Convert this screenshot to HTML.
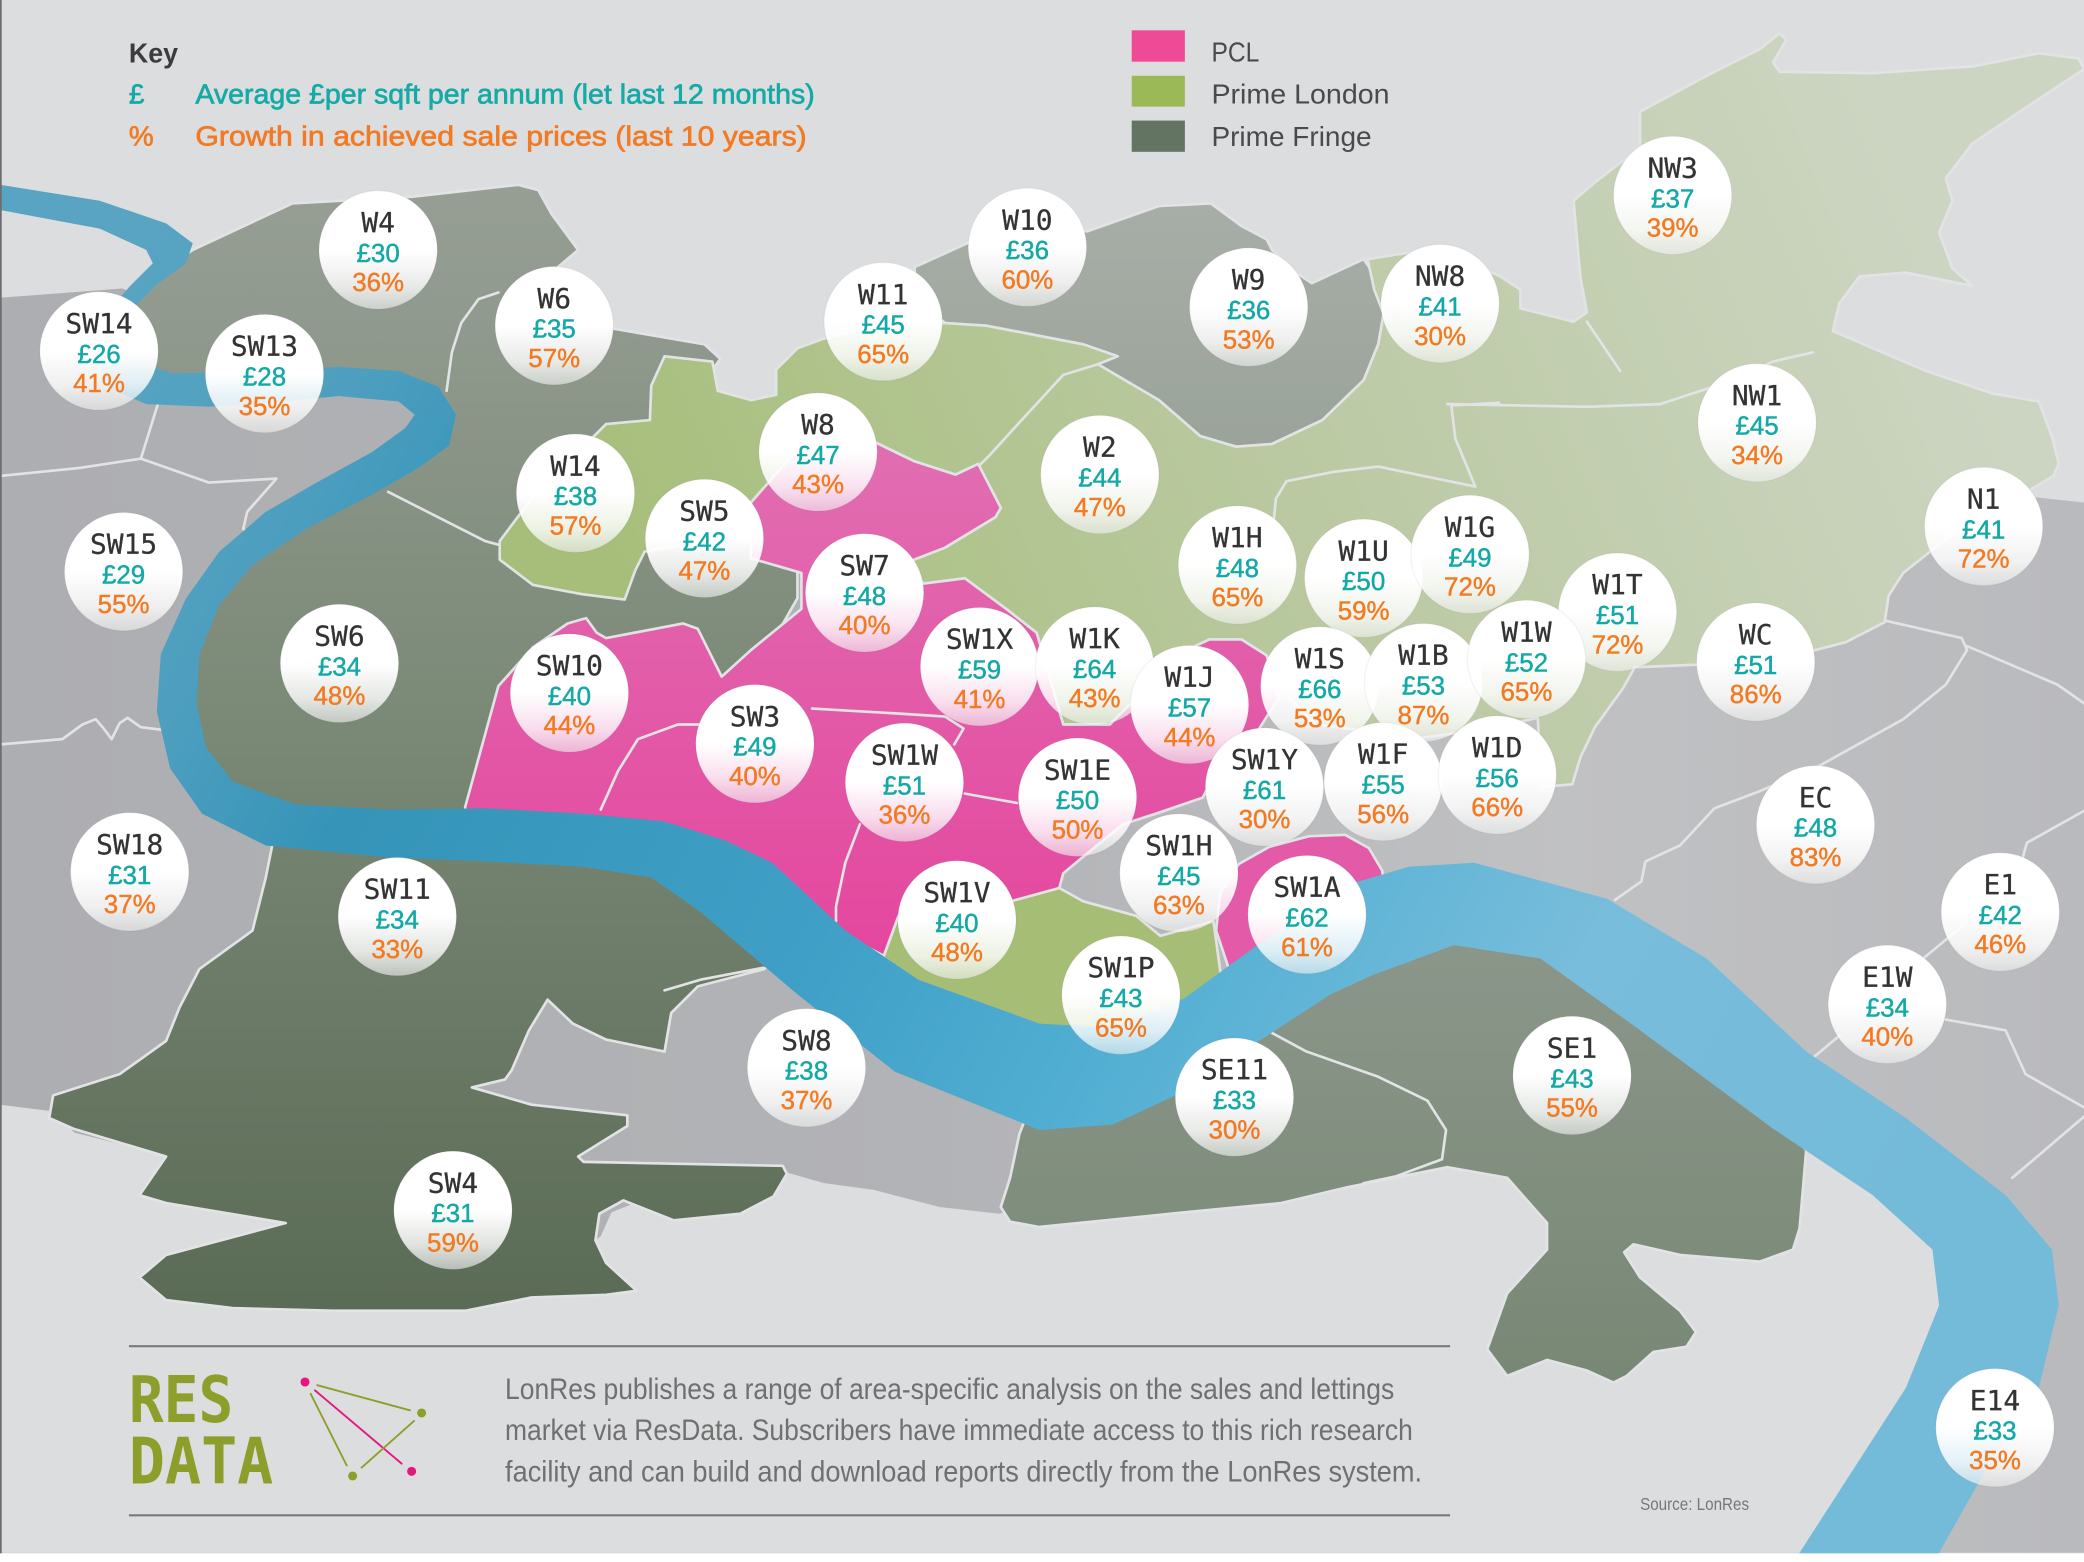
<!DOCTYPE html>
<html><head><meta charset="utf-8">
<style>
html,body{margin:0;padding:0;background:#dcdddf;}
svg{display:block}
.c circle{fill:url(#cg);stroke:rgba(120,120,120,0.08);stroke-width:1}
.p{font-family:"DejaVu Sans Mono","Liberation Mono",monospace;font-size:21px;fill:#333;stroke:#333;stroke-width:0.2;text-anchor:middle}
.v{font-family:"Liberation Sans",sans-serif;font-size:19.5px;fill:#13a9a6;stroke:#13a9a6;stroke-width:0.35;text-anchor:middle}
.g{font-family:"Liberation Sans",sans-serif;font-size:19.5px;fill:#f37a22;stroke:#f37a22;stroke-width:0.35;text-anchor:middle}
.ln{fill:none;stroke:#e2e3e4;stroke-width:2;stroke-linejoin:round;stroke-linecap:round}
.rg{stroke:#e2e3e4;stroke-width:2;stroke-linejoin:round}
.lg{font-family:"Liberation Sans",sans-serif;font-size:21px}
</style></head>
<body>
<svg width="2084" height="1562" viewBox="0 0 1568 1175" preserveAspectRatio="none" xmlns="http://www.w3.org/2000/svg">
<defs>
<linearGradient id="cg" x1="0" y1="0" x2="0" y2="1">
<stop offset="0" stop-color="#fff"/><stop offset="0.5" stop-color="#fff"/><stop offset="0.8" stop-color="#fff" stop-opacity="0.8"/><stop offset="1" stop-color="#f4f4f4" stop-opacity="0.6"/>
</linearGradient>
<linearGradient id="gGrey" gradientUnits="userSpaceOnUse" x1="0" y1="0" x2="1568" y2="0">
<stop offset="0" stop-color="#adaeb1"/><stop offset="0.45" stop-color="#b2b3b6"/><stop offset="0.75" stop-color="#c0c1c3"/><stop offset="1" stop-color="#b9babd"/>
</linearGradient>
<linearGradient id="gFW" gradientUnits="userSpaceOnUse" x1="0" y1="140" x2="0" y2="990">
<stop offset="0" stop-color="#979f95"/><stop offset="0.45" stop-color="#7c8a78"/><stop offset="1" stop-color="#5a6b55"/>
</linearGradient>
<linearGradient id="gFN" gradientUnits="userSpaceOnUse" x1="0" y1="150" x2="0" y2="340">
<stop offset="0" stop-color="#a7aea7"/><stop offset="1" stop-color="#9aa39a"/>
</linearGradient>
<linearGradient id="gFS" gradientUnits="userSpaceOnUse" x1="0" y1="690" x2="0" y2="1040">
<stop offset="0" stop-color="#8c978b"/><stop offset="1" stop-color="#788875"/>
</linearGradient>
<linearGradient id="gGreen" gradientUnits="userSpaceOnUse" x1="1400" y1="60" x2="450" y2="450">
<stop offset="0" stop-color="#ccd5c1"/><stop offset="0.45" stop-color="#bccaa5"/><stop offset="1" stop-color="#a6be79"/>
</linearGradient>
<linearGradient id="gPink" gradientUnits="userSpaceOnUse" x1="0" y1="320" x2="0" y2="720">
<stop offset="0" stop-color="#e16fb2"/><stop offset="1" stop-color="#e4479e"/>
</linearGradient>
<linearGradient id="gRiver" gradientUnits="userSpaceOnUse" x1="100" y1="200" x2="1450" y2="950">
<stop offset="0" stop-color="#58a4c2"/><stop offset="0.12" stop-color="#4e9fbf"/><stop offset="0.22" stop-color="#3594b8"/><stop offset="0.45" stop-color="#3f9fc6"/><stop offset="0.6" stop-color="#52afd3"/><stop offset="0.78" stop-color="#78bddb"/><stop offset="1" stop-color="#74bad9"/>
</linearGradient>
</defs>

<rect width="1568" height="1175" fill="#dcdddf"/>

<path fill="url(#gGrey)" d="M0,224 L92,217 L150,240 L300,270 L450,300 L560,335 L700,380 L900,450 L1100,470 L1300,420 L1450,380 L1510,372 L1530,374 L1568,378 L1568,1168 L0,1168 Z"/>
<path fill="#dcdddf" d="M0,831 L40,836 L56,852 L120,868 L300,960 L430,945 L452,930 L460,912 L475,906 L507,915 L557,910 L580,898 L592,882 L620,890 L657,895 L707,908 L752,913 L775,905 L1000,880 L1150,870 L1300,870 L1359,865 L1385,862 L1440,900 L1470,950 L1472,990 L1460,1040 L1420,1100 L1385,1168 L0,1168 Z"/>

<path class="rg" fill="url(#gFW)" d="M110,212 L145,188 L220,153 L310,148 L390,139 L405,143 L415,161 L435,188 L415,205 L460,247 L530,259 L542,270 L520,300 L560,335 L600,400 L600,450 L560,520 L470,560 L400,600 L370,628 L450,640 L540,660 L600,700 L575,729 L525,742 L505,762 L500,791 L456,782 L431,770 L412,752 L398,775 L385,805 L380,812 L355,818 L400,831 L472,839 L472,847 L435,870 L439,874 L589,877 L592,883 L582,900 L557,913 L507,918 L469,903 L451,913 L448,933 L456,950 L479,971 L456,974 L400,976 L350,986 L250,986 L175,984 L125,978 L105,961 L125,944 L215,920 L125,905 L105,899 L125,870 L55,849 L37,841 L40,824 L90,808 L125,783 L135,758 L150,729 L190,700 L200,660 L205,635 L175,612 L150,590 L140,560 L138,520 L145,480 L165,445 L200,410 L250,380 L300,355 L325,330 L325,308 L300,292 L255,287 L200,292 L130,292 L100,285 L92,255 L95,230 Z"/>
<path class="rg" fill="url(#gFN)" d="M688,201 L730,182 L770,168 L818,174 L872,155 L911,153 L934,170 L953,180 L957,188 L975,205 L987,213 L1026,195 L1033,205 L1041,236 L1037,259 L1026,286 L995,316 L957,334 L930,336 L903,328 L872,301 L826,274 L815,259 L742,245 L711,243 L690,225 Z"/>
<path class="rg" fill="url(#gFS)" d="M767,853 L782,815 L837,812 L891,790 L946,750 L1010,705 L1060,690 L1109,685 L1160,700 L1230,745 L1300,805 L1359,865 L1354,924 L1349,940 L1324,949 L1264,944 L1229,936 L1222,942 L1234,961 L1264,986 L1276,1002 L1269,1013 L1244,1017 L1224,1035 L1214,1040 L1194,1031 L1164,1023 L1134,1035 L1119,1015 L1134,973 L1164,940 L1164,920 L1134,886 L1089,878 L1014,893 L964,905 L891,912 L782,923 L760,919 L753,908 L760,886 Z"/>

<path class="rg" fill="url(#gGreen)" d="M376,407 L400,375 L425,345 L445,330 L456,319 L489,316 L490,290 L500,268 L536,272 L540,294 L565,301 L584,297 L584,278 L600,262 L619,255 L660,245 L711,243 L742,245 L815,259 L841,268 L826,274 L872,301 L903,328 L930,336 L957,334 L995,316 L1026,286 L1037,259 L1041,236 L1034,218 L1029,195 L1060,190 L1100,195 L1129,208 L1144,218 L1144,232 L1184,242 L1194,235 L1189,208 L1184,151 L1199,138 L1234,111 L1234,84 L1284,57 L1324,37 L1339,25 L1344,30 L1334,47 L1339,54 L1409,55 L1484,50 L1534,40 L1564,44 L1568,52 L1524,81 L1484,108 L1464,134 L1469,151 L1459,175 L1469,202 L1484,215 L1434,205 L1399,208 L1384,228 L1379,249 L1449,279 L1499,296 L1534,302 L1544,329 L1549,349 L1545,358 L1525,370 L1500,378 L1461,408 L1432,431 L1421,448 L1418,468 L1389,483 L1366,489 L1276,500 L1230,502 L1221,518 L1200,547 L1189,570 L1183,590 L1160,592 L1157,540 L1120,548 L1070,555 L1030,550 L990,545 L965,520 L953,493 L934,481 L910,481 L880,495 L860,520 L835,545 L800,545 L780,476 L757,458 L726,435 L695,439 L680,424 L711,412 L749,389 L753,382 L736,349 L719,357 L688,347 L657,332 L615,375 L565,378 L540,405 L485,415 L478,429 L470,451 L438,447 L401,440 L376,421 Z"/>
<path class="rg" fill="#a6bd75" d="M665,719 L676,689 L720,690 L764,677 L797,668 L815,678 L855,689 L873,704 L913,693 L917,722 L920,745 L880,770 L837,790 L782,790 L700,760 L640,725 Z"/>

<path class="rg" fill="url(#gPink)" d="M640,320 L657,332 L688,347 L719,357 L736,349 L753,382 L749,389 L711,412 L680,424 L695,439 L726,435 L757,458 L780,476 L800,545 L835,545 L860,520 L880,495 L910,481 L934,481 L953,493 L962,525 L945,552 L915,580 L905,600 L870,612 L845,620 L818,642 L800,657 L797,668 L764,677 L720,690 L676,689 L665,719 L628,700 L600,680 L545,652 L500,636 L438,628 L365,625 L350,618 L350,607 L375,516 L401,487 L427,469 L441,465 L449,476 L456,480 L514,469 L525,473 L543,509 L565,489 L603,458 L603,431 L565,420 L565,378 L600,338 Z"/>
<path class="rg" fill="#e25aa8" d="M915,700 L918,672 L932,650 L955,637 L985,629 L1012,628 L1030,638 L1040,655 L1042,675 L1030,690 L980,720 L930,745 Z"/>

<polyline class="ln" points="0,358 60,352 106,345 120,300"/>
<polyline class="ln" points="106,345 157,363 208,360 186,385 183,398 200,408"/>
<polyline class="ln" points="0,560 47,556 62,545 72,541 78,548 84,556 90,544 96,540 106,547 122,549"/>
<polyline class="ln" points="292,370 365,407 376,410"/>
<polyline class="ln" points="336,294 340,265 347,243 360,225 375,220"/>
<polyline class="ln" points="452,609 465,580 480,556 510,545 526,545"/>
<polyline class="ln" points="611,533 680,537 711,539 725,548 718,560"/>
<polyline class="ln" points="726,597 765,604"/>
<polyline class="ln" points="647,620 636,649 629,682 629,693"/>
<polyline class="ln" points="737,350 745,342 765,320 800,282 826,274"/>
<polyline class="ln" points="1128,303 1092,305 1095,330 1110,366 1037,351 1003,355 968,362 960,375 958,395"/>
<polyline class="ln" points="1089,304 1194,306 1249,304 1304,286 1334,272 1364,265"/>
<polyline class="ln" points="1219,279 1194,242"/>
<polyline class="ln" points="1419,467 1476,480 1480,489 1464,515 1432,541 1369,576 1322,596 1290,608 1264,636 1238,648 1235,663 1215,677"/>
<polyline class="ln" points="1480,486 1548,515 1568,529"/>
<polyline class="ln" points="1568,610 1525,634 1522,645"/>
<polyline class="ln" points="1476,697 1447,721"/>
<polyline class="ln" points="1359,800 1384,779"/>
<polyline class="ln" points="1464,767 1509,775 1524,808 1568,833"/>
<polyline class="ln" points="1568,840 1514,886"/>
<polyline class="ln" points="957,777 983,791 1037,810 1074,828 1088,850 1085,872 1050,885 1026,890"/>
<polyline class="ln" points="500,745 527,737 574,728"/>

<path fill="url(#gRiver)" d="M0,139 L75,151 L125,168 L145,183 L140,198 L118,214 L100,232 L95,252 L103,272 L130,281 L200,279 L255,276 L300,279 L330,291 L343,312 L338,335 L315,352 L280,372 L230,398 L190,425 L165,455 L150,492 L148,530 L155,562 L175,588 L222,605 L292,609 L365,608 L438,612 L500,618 L545,632 L581,649 L636,700 L691,737 L782,770 L837,773 L891,751 L946,711 L1019,664 L1060,652 L1109,649 L1209,676 L1284,721 L1359,791 L1434,841 L1509,899 L1544,940 L1549,982 L1534,1044 L1499,1097 L1459,1168 L1455,1175 L1350,1175 L1354,1168 L1394,1106 L1434,1044 L1459,982 L1454,940 L1409,899 L1334,849 L1234,775 L1159,721 L1094,711 L1034,733 L1001,748 L946,784 L891,821 L837,846 L782,850 L673,806 L600,748 L527,686 L490,660 L438,652 L365,648 L292,645 L200,636 L152,612 L128,578 L118,535 L121,492 L140,450 L165,415 L200,385 L240,362 L280,340 L305,322 L312,312 L300,302 L255,298 L200,303 L157,306 L110,304 L82,292 L70,265 L78,238 L98,215 L115,198 L110,188 L75,172 L0,158 Z"/>

<g class="c" transform="translate(284.5,188)"><circle r="44.5"/><text class="p" y="-13.5">W4</text><text class="v" y="9">£30</text><text class="g" y="31">36%</text></g>
<g class="c" transform="translate(74.5,264)"><circle r="44.5"/><text class="p" y="-13.5">SW14</text><text class="v" y="9">£26</text><text class="g" y="31">41%</text></g>
<g class="c" transform="translate(199,281)"><circle r="44.5"/><text class="p" y="-13.5">SW13</text><text class="v" y="9">£28</text><text class="g" y="31">35%</text></g>
<g class="c" transform="translate(417,245)"><circle r="44.5"/><text class="p" y="-13.5">W6</text><text class="v" y="9">£35</text><text class="g" y="31">57%</text></g>
<g class="c" transform="translate(773,186)"><circle r="44.5"/><text class="p" y="-13.5">W10</text><text class="v" y="9">£36</text><text class="g" y="31">60%</text></g>
<g class="c" transform="translate(664.5,242)"><circle r="44.5"/><text class="p" y="-13.5">W11</text><text class="v" y="9">£45</text><text class="g" y="31">65%</text></g>
<g class="c" transform="translate(939.5,231)"><circle r="44.5"/><text class="p" y="-13.5">W9</text><text class="v" y="9">£36</text><text class="g" y="31">53%</text></g>
<g class="c" transform="translate(1083.5,228.4)"><circle r="44.5"/><text class="p" y="-13.5">NW8</text><text class="v" y="9">£41</text><text class="g" y="31">30%</text></g>
<g class="c" transform="translate(1258.5,147)"><circle r="44.5"/><text class="p" y="-13.5">NW3</text><text class="v" y="9">£37</text><text class="g" y="31">39%</text></g>
<g class="c" transform="translate(1322,318)"><circle r="44.5"/><text class="p" y="-13.5">NW1</text><text class="v" y="9">£45</text><text class="g" y="31">34%</text></g>
<g class="c" transform="translate(1492.5,396)"><circle r="44.5"/><text class="p" y="-13.5">N1</text><text class="v" y="9">£41</text><text class="g" y="31">72%</text></g>
<g class="c" transform="translate(615.5,340)"><circle r="44.5"/><text class="p" y="-13.5">W8</text><text class="v" y="9">£47</text><text class="g" y="31">43%</text></g>
<g class="c" transform="translate(827.5,357)"><circle r="44.5"/><text class="p" y="-13.5">W2</text><text class="v" y="9">£44</text><text class="g" y="31">47%</text></g>
<g class="c" transform="translate(433,371)"><circle r="44.5"/><text class="p" y="-13.5">W14</text><text class="v" y="9">£38</text><text class="g" y="31">57%</text></g>
<g class="c" transform="translate(530,405)"><circle r="44.5"/><text class="p" y="-13.5">SW5</text><text class="v" y="9">£42</text><text class="g" y="31">47%</text></g>
<g class="c" transform="translate(93,430)"><circle r="44.5"/><text class="p" y="-13.5">SW15</text><text class="v" y="9">£29</text><text class="g" y="31">55%</text></g>
<g class="c" transform="translate(650.5,446)"><circle r="44.5"/><text class="p" y="-13.5">SW7</text><text class="v" y="9">£48</text><text class="g" y="31">40%</text></g>
<g class="c" transform="translate(931,425)"><circle r="44.5"/><text class="p" y="-13.5">W1H</text><text class="v" y="9">£48</text><text class="g" y="31">65%</text></g>
<g class="c" transform="translate(1026,435)"><circle r="44.5"/><text class="p" y="-13.5">W1U</text><text class="v" y="9">£50</text><text class="g" y="31">59%</text></g>
<g class="c" transform="translate(1106,417)"><circle r="44.5"/><text class="p" y="-13.5">W1G</text><text class="v" y="9">£49</text><text class="g" y="31">72%</text></g>
<g class="c" transform="translate(1217,460.5)"><circle r="44.5"/><text class="p" y="-13.5">W1T</text><text class="v" y="9">£51</text><text class="g" y="31">72%</text></g>
<g class="c" transform="translate(255.4,499)"><circle r="44.5"/><text class="p" y="-13.5">SW6</text><text class="v" y="9">£34</text><text class="g" y="31">48%</text></g>
<g class="c" transform="translate(428.4,521.3)"><circle r="44.5"/><text class="p" y="-13.5">SW10</text><text class="v" y="9">£40</text><text class="g" y="31">44%</text></g>
<g class="c" transform="translate(737,501.5)"><circle r="44.5"/><text class="p" y="-13.5">SW1X</text><text class="v" y="9">£59</text><text class="g" y="31">41%</text></g>
<g class="c" transform="translate(823.6,501)"><circle r="44.5"/><text class="p" y="-13.5">W1K</text><text class="v" y="9">£64</text><text class="g" y="31">43%</text></g>
<g class="c" transform="translate(895,530)"><circle r="44.5"/><text class="p" y="-13.5">W1J</text><text class="v" y="9">£57</text><text class="g" y="31">44%</text></g>
<g class="c" transform="translate(993,516)"><circle r="44.5"/><text class="p" y="-13.5">W1S</text><text class="v" y="9">£66</text><text class="g" y="31">53%</text></g>
<g class="c" transform="translate(1071,513.5)"><circle r="44.5"/><text class="p" y="-13.5">W1B</text><text class="v" y="9">£53</text><text class="g" y="31">87%</text></g>
<g class="c" transform="translate(1148.5,496)"><circle r="44.5"/><text class="p" y="-13.5">W1W</text><text class="v" y="9">£52</text><text class="g" y="31">65%</text></g>
<g class="c" transform="translate(1321,498)"><circle r="44.5"/><text class="p" y="-13.5">WC</text><text class="v" y="9">£51</text><text class="g" y="31">86%</text></g>
<g class="c" transform="translate(568,559.5)"><circle r="44.5"/><text class="p" y="-13.5">SW3</text><text class="v" y="9">£49</text><text class="g" y="31">40%</text></g>
<g class="c" transform="translate(680.5,588.5)"><circle r="44.5"/><text class="p" y="-13.5">SW1W</text><text class="v" y="9">£51</text><text class="g" y="31">36%</text></g>
<g class="c" transform="translate(810.7,599.7)"><circle r="44.5"/><text class="p" y="-13.5">SW1E</text><text class="v" y="9">£50</text><text class="g" y="31">50%</text></g>
<g class="c" transform="translate(951.4,592)"><circle r="44.5"/><text class="p" y="-13.5">SW1Y</text><text class="v" y="9">£61</text><text class="g" y="31">30%</text></g>
<g class="c" transform="translate(1040.7,588)"><circle r="44.5"/><text class="p" y="-13.5">W1F</text><text class="v" y="9">£55</text><text class="g" y="31">56%</text></g>
<g class="c" transform="translate(1126.5,583)"><circle r="44.5"/><text class="p" y="-13.5">W1D</text><text class="v" y="9">£56</text><text class="g" y="31">66%</text></g>
<g class="c" transform="translate(1366,620.4)"><circle r="44.5"/><text class="p" y="-13.5">EC</text><text class="v" y="9">£48</text><text class="g" y="31">83%</text></g>
<g class="c" transform="translate(97.6,655.8)"><circle r="44.5"/><text class="p" y="-13.5">SW18</text><text class="v" y="9">£31</text><text class="g" y="31">37%</text></g>
<g class="c" transform="translate(887,656.7)"><circle r="44.5"/><text class="p" y="-13.5">SW1H</text><text class="v" y="9">£45</text><text class="g" y="31">63%</text></g>
<g class="c" transform="translate(983.4,688)"><circle r="44.5"/><text class="p" y="-13.5">SW1A</text><text class="v" y="9">£62</text><text class="g" y="31">61%</text></g>
<g class="c" transform="translate(298.9,689.5)"><circle r="44.5"/><text class="p" y="-13.5">SW11</text><text class="v" y="9">£34</text><text class="g" y="31">33%</text></g>
<g class="c" transform="translate(720,692)"><circle r="44.5"/><text class="p" y="-13.5">SW1V</text><text class="v" y="9">£40</text><text class="g" y="31">48%</text></g>
<g class="c" transform="translate(1505,686)"><circle r="44.5"/><text class="p" y="-13.5">E1</text><text class="v" y="9">£42</text><text class="g" y="31">46%</text></g>
<g class="c" transform="translate(843.4,748.6)"><circle r="44.5"/><text class="p" y="-13.5">SW1P</text><text class="v" y="9">£43</text><text class="g" y="31">65%</text></g>
<g class="c" transform="translate(1420,755.5)"><circle r="44.5"/><text class="p" y="-13.5">E1W</text><text class="v" y="9">£34</text><text class="g" y="31">40%</text></g>
<g class="c" transform="translate(606.8,803.2)"><circle r="44.5"/><text class="p" y="-13.5">SW8</text><text class="v" y="9">£38</text><text class="g" y="31">37%</text></g>
<g class="c" transform="translate(928.8,825.3)"><circle r="44.5"/><text class="p" y="-13.5">SE11</text><text class="v" y="9">£33</text><text class="g" y="31">30%</text></g>
<g class="c" transform="translate(1182.8,809)"><circle r="44.5"/><text class="p" y="-13.5">SE1</text><text class="v" y="9">£43</text><text class="g" y="31">55%</text></g>
<g class="c" transform="translate(340.8,910.4)"><circle r="44.5"/><text class="p" y="-13.5">SW4</text><text class="v" y="9">£31</text><text class="g" y="31">59%</text></g>
<g class="c" transform="translate(1501,1074)"><circle r="44.5"/><text class="p" y="-13.5">E14</text><text class="v" y="9">£33</text><text class="g" y="31">35%</text></g>

<text class="lg" x="97" y="47" fill="#3c3c3c" font-weight="bold" textLength="37" lengthAdjust="spacingAndGlyphs">Key</text>
<text class="lg" x="97" y="78" fill="#15aaa6" stroke="#15aaa6" stroke-width="0.5">£</text>
<text class="lg" x="147" y="78" fill="#15aaa6" stroke="#15aaa6" stroke-width="0.5" textLength="466" lengthAdjust="spacingAndGlyphs">Average £per sqft per annum (let last 12 months)</text>
<text class="lg" x="97" y="109.5" fill="#f27a23" stroke="#f27a23" stroke-width="0.5">%</text>
<text class="lg" x="147" y="109.5" fill="#f27a23" stroke="#f27a23" stroke-width="0.5" textLength="460" lengthAdjust="spacingAndGlyphs">Growth in achieved sale prices (last 10 years)</text>

<rect x="851.5" y="22.8" width="40" height="23.6" fill="#ee4a96"/>
<rect x="851.5" y="57" width="40" height="23.2" fill="#9bb957"/>
<rect x="851.5" y="90.7" width="40" height="23.5" fill="#637462"/>
<text class="lg" x="911.5" y="46.4" fill="#4a4a4a" textLength="36" lengthAdjust="spacingAndGlyphs">PCL</text>
<text class="lg" x="911.5" y="78" fill="#4a4a4a" textLength="134" lengthAdjust="spacingAndGlyphs">Prime London</text>
<text class="lg" x="911.5" y="109.8" fill="#4a4a4a" textLength="120.5" lengthAdjust="spacingAndGlyphs">Prime Fringe</text>

<line x1="97" y1="1012.7" x2="1091" y2="1012.7" stroke="#7a7a7a" stroke-width="1.6"/>
<line x1="97" y1="1139.9" x2="1091" y2="1139.9" stroke="#7a7a7a" stroke-width="1.6"/>
<text x="97" y="1069.7" font-family="DejaVu Sans Mono, monospace" font-weight="bold" font-size="48" fill="#8d9e2b" textLength="78.5" lengthAdjust="spacingAndGlyphs">RES</text>
<text x="97" y="1116" font-family="DejaVu Sans Mono, monospace" font-weight="bold" font-size="48" fill="#8d9e2b" textLength="108.6" lengthAdjust="spacingAndGlyphs">DATA</text>
<g stroke-width="1.4" stroke-linecap="round">
<line x1="238.7" y1="1042" x2="308.4" y2="1060.9" stroke="#8d9e2b"/>
<line x1="237" y1="1045.9" x2="302.2" y2="1101" stroke="#e5177f"/>
<line x1="233.7" y1="1048.4" x2="260.8" y2="1102.3" stroke="#8d9e2b"/>
<line x1="272.1" y1="1104" x2="311.5" y2="1068.9" stroke="#8d9e2b"/>
</g>
<circle cx="229.5" cy="1039.6" r="3.4" fill="#e5177f"/>
<circle cx="317.2" cy="1062.9" r="3.4" fill="#8d9e2b"/>
<circle cx="265.3" cy="1110.3" r="3.4" fill="#8d9e2b"/>
<circle cx="309.7" cy="1106.8" r="3.4" fill="#e5177f"/>
<g font-family="Liberation Sans, sans-serif" font-size="22" fill="#707070">
<text x="380" y="1052.3" textLength="669" lengthAdjust="spacingAndGlyphs">LonRes publishes a range of area-specific analysis on the sales and lettings</text>
<text x="380" y="1083.3" textLength="683" lengthAdjust="spacingAndGlyphs">market via ResData. Subscribers have immediate access to this rich research</text>
<text x="380" y="1114.3" textLength="690" lengthAdjust="spacingAndGlyphs">facility and can build and download reports directly from the LonRes system.</text>
</g>
<text x="1234" y="1136" font-family="Liberation Sans, sans-serif" font-size="13" fill="#777" textLength="82" lengthAdjust="spacingAndGlyphs">Source: LonRes</text>

<rect x="0" y="1168.5" width="1568" height="7" fill="#ffffff"/>
<rect x="0" y="0" width="1.3" height="1168.5" fill="#6e6e6e"/>
</svg>
</body></html>
